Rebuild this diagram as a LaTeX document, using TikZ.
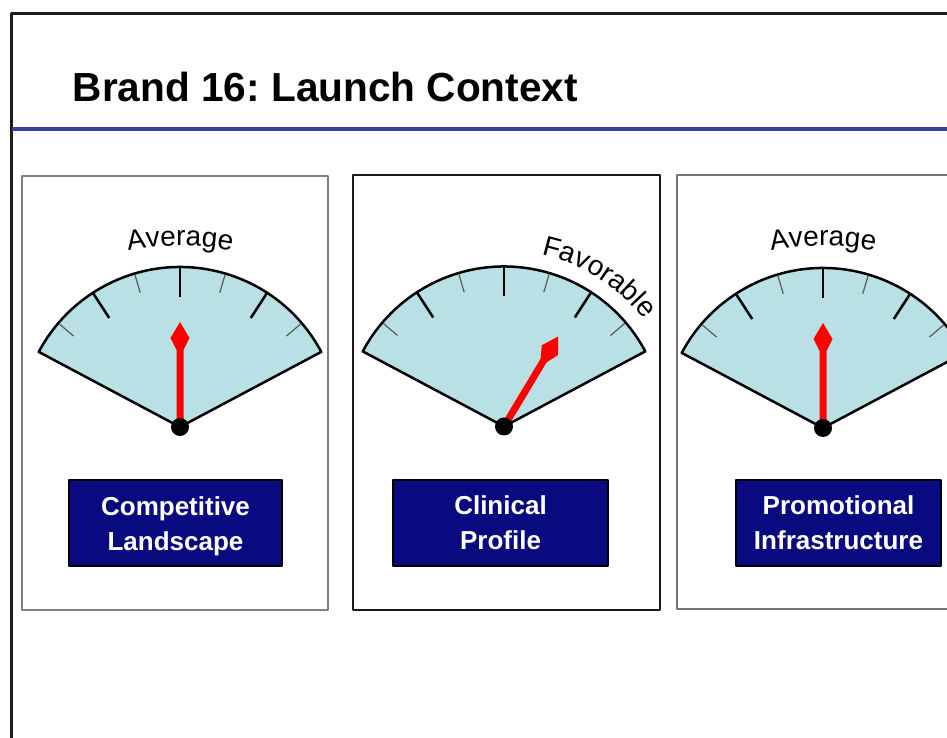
\documentclass[tikz,border=0pt]{standalone}
\usepackage{fontspec}
\setmainfont{Liberation Sans}
\usetikzlibrary{decorations.text}
\definecolor{dial}{HTML}{B9E0E4}
\definecolor{navy}{HTML}{0A0A80}
\definecolor{rulecol}{HTML}{34449A}
\definecolor{framecol}{HTML}{1C1C1C}
\newcommand\dialfont{\fontsize{28}{28}\selectfont}
\frenchspacing

\begin{document}
\begin{tikzpicture}[
    x = 1pt, y = 1pt, % one unit per pixel
    line join = round,
    headline/.style = {font = \fontsize{40.6}{40.6}\selectfont\bfseries,
      anchor = base west, inner sep = 0pt},
    panel/.style = {draw = gray, line width = 1.5pt},
    dialface/.style = {fill = dial, draw = black, line width = 2.5pt},
    majortick/.style = {draw = black, line width = 2.5pt},
    minortick/.style = {draw = black!65, line width = 1.2pt},
    needle/.style = {fill = red},
    hub/.style = {fill = black},
    namebox/.style = {draw = black, line width = 2pt, fill = navy,
      text = white, font = \fontsize{26}{35}\selectfont\bfseries,
      align = center, minimum height = 86pt, inner sep = 0pt},
  ]

    \clip (0,0) rectangle (947,738);

    % slide frame and header
    \draw[framecol, line width = 3.5pt] (11.5,0) -- (11.5,724.5) -- (947,724.5);
    \draw[rulecol, line width = 3.5pt] (11.5,609) -- (947,609);
    \node[headline] (heading) at (72.5,636) {Brand 16: Launch Context};

    % panels
    \draw[panel] (22,128) rectangle (328,562);
    \draw[panel, draw = black!90, line width = 2pt] (353,128) rectangle (660,563);
    \draw[panel, draw = black!55, line width = 2pt] (677,129) rectangle (990,563);

    % dials: x / y / needle angle
    \foreach \cx/\cy/\val [count=\i] in {180/311/90, 504/311.5/59, 823/310/90} {
      \begin{scope}[shift = {(\cx,\cy)}]
        \coordinate (pivot\i) at (0,0);
        \filldraw[dialface] (0,0) -- (28:160) arc[start angle = 28, end angle = 152, radius = 160] -- cycle;
        \foreach \a in {57, 90, 123}
          \draw[majortick] (\a:160) -- (\a:130);
        \foreach \a in {40.5, 73.5, 106.5, 139.5}
          \draw[minortick] (\a:159) -- (\a:140);
        \fill[needle, rotate = \val-90] (-3.5,0) -- (-3.5,77) -- (-9.5,89) -- (0,105)
          -- (9.5,89) -- (3.5,77) -- (3.5,0) -- cycle;
        \fill[hub] (0,0) circle[radius = 9];
      \end{scope}
    }

    % readings
    \path[decorate, decoration = {text along path, text align = center,
        text = {|\dialfont|Average}}]
      (180,202) ++(110:290) arc[start angle = 110, end angle = 70, radius = 290];
    \path[decorate, decoration = {text along path, text align = center,
        text = {|\dialfont|Favorable}}]
      (pivot2) ++(95:176) arc[start angle = 95, end angle = 20, radius = 176];
    \path[decorate, decoration = {text along path, text align = center,
        text = {|\dialfont|Average}}]
      (823,202) ++(110:290) arc[start angle = 110, end angle = 70, radius = 290];

    % names
    \node[namebox, minimum width = 213pt] (landscape) at (175.5,215) {\rule{0pt}{24.5pt}Competitive\\Landscape};
    \node[namebox, minimum width = 215pt] (profile) at (500.5,215) {Clinical\\Profile};
    \node[namebox, minimum width = 205pt] (promo) at (838.5,215) {Promotional\\Infrastructure};

\end{tikzpicture}
\end{document}
